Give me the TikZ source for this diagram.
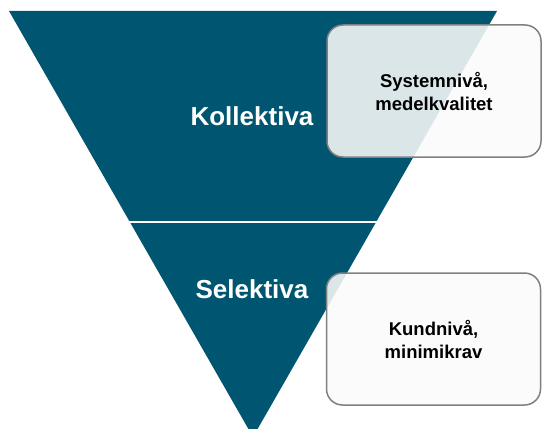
\documentclass[tikz,border=0pt]{standalone}
\usepackage{fontspec}
\setmainfont{Liberation Sans}
\usetikzlibrary{positioning}

\definecolor{pyramid}{RGB}{0,86,112}

\begin{document}
\begin{tikzpicture}[x=1pt, y=-1pt,
	level/.style={text=white, font=\bfseries\fontsize{26}{30}\selectfont},
	note/.style={draw=gray, line width=1.5pt, rounded corners=16pt,
		fill=white!98!black, fill opacity=0.88, text opacity=1,
		minimum width=214pt, minimum height=132pt, align=center,
		font=\bfseries\fontsize{18.5}{23}\selectfont}]
	\clip (0,0) rectangle (543,428);

	\coordinate (tl) at (9,11);
	\coordinate (tr) at (497,11);
	\coordinate (apex) at (253,437);

	\fill[pyramid] (tl) -- (tr) -- (apex) -- cycle;
	\draw[white, line width=2pt] (110,222) -- (400,222);

	\node[level] (koll) at (252,116) {Kollektiva};
	\node[level] (sel) at (252,289) {Selektiva};

	\node[note] (sys) at (434,91) {Systemnivå,\\medelkvalitet};
	\node[note] (kund) at (433.5,339) {Kundnivå,\\minimikrav};
\end{tikzpicture}
\end{document}
